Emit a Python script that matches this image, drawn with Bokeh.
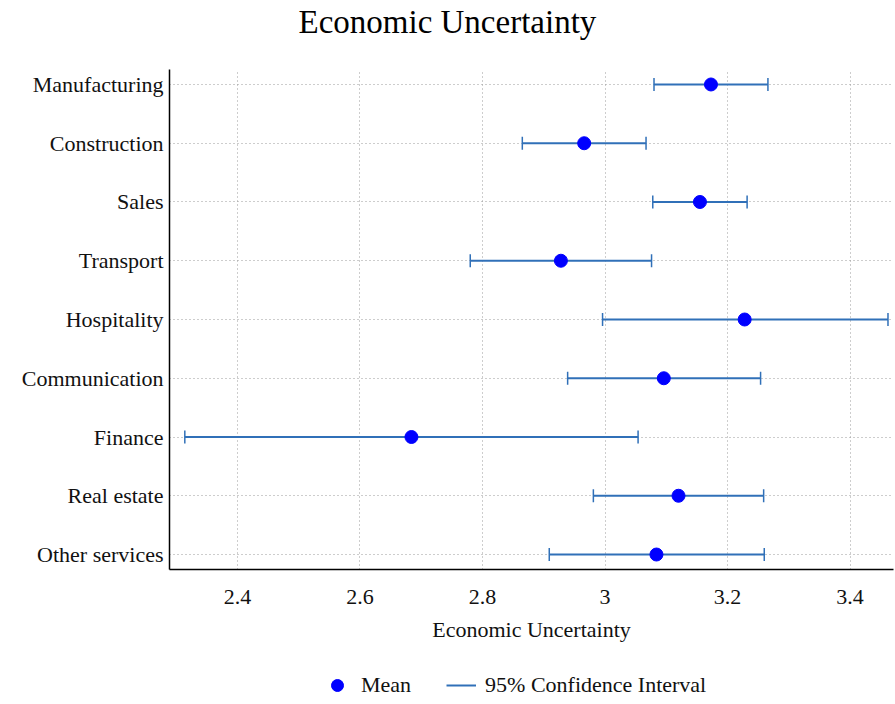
import math
from bokeh.plotting import figure
from bokeh.layouts import column
from bokeh.models import (ColumnDataSource, Range1d, FixedTicker, Legend, LegendItem,
                          CustomJSTickFormatter, Title)
from bokeh.embed import file_html
from bokeh.resources import INLINE

categories = ["Manufacturing", "Construction", "Sales", "Transport", "Hospitality",
              "Communication", "Finance", "Real estate", "Other services"]
means = [3.173, 2.966, 3.155, 2.928, 3.228, 3.096, 2.684, 3.120, 3.084]
ci_low = [3.080, 2.865, 3.078, 2.780, 2.996, 2.939, 2.314, 2.981, 2.909]
ci_high = [3.266, 3.067, 3.232, 3.076, 3.462, 3.254, 3.054, 3.259, 3.260]
x_ticks = [2.4, 2.6, 2.8, 3.0, 3.2, 3.4]
title_text = "Economic Uncertainty"
legend_labels = ["Mean", "95% Confidence Interval"]

n = len(categories)
ypos = [n - i for i in range(n)]
src = ColumnDataSource(dict(cat=categories, y=ypos, m=means, lo=ci_low, hi=ci_high))

FONT = "Liberation Serif"
CI_COLOR = "#3070b8"
DOT_COLOR = "#0000ff"

p = figure(frame_width=724, frame_height=500, output_backend="svg", toolbar_location=None,
           x_range=Range1d(2.289, 3.471), y_range=Range1d(0.745, n + 0.255),
           min_border_left=169, min_border_right=2, min_border_top=69, min_border_bottom=85)
p.outline_line_color = None
p.background_fill_color = "white"
p.border_fill_color = "white"

p.segment(x0="lo", x1="hi", y0="y", y1="y", source=src, line_color=CI_COLOR, line_width=2)
p.scatter(x="lo", y="y", source=src, marker="dash", angle=math.pi / 2, size=13,
          line_color=CI_COLOR, line_width=1.5)
p.scatter(x="hi", y="y", source=src, marker="dash", angle=math.pi / 2, size=13,
          line_color=CI_COLOR, line_width=1.5)
p.scatter(x="m", y="y", source=src, size=13, fill_color=DOT_COLOR, line_color=DOT_COLOR)

# spacer (closest to the frame), then the title, centred on the whole image
p.add_layout(Title(text=" ", text_font_size="10px", standoff=17), "above")
p.add_layout(Title(text=title_text, align="left", offset=129, standoff=0,
                   text_font=FONT, text_font_size="33px", text_font_style="normal",
                   text_color="black"), "above")

# axes
p.xaxis.ticker = FixedTicker(ticks=x_ticks)
p.xaxis.formatter = CustomJSTickFormatter(code="return (Math.round(tick*10)/10).toString();")
p.xaxis.axis_label = "Economic Uncertainty"
p.yaxis.ticker = FixedTicker(ticks=ypos)
p.yaxis.major_label_overrides = {y: c for y, c in zip(ypos, categories)}
for ax in (p.xaxis, p.yaxis):
    ax.major_tick_line_color = None
    ax.minor_tick_line_color = None
    ax.major_tick_out = 0
    ax.major_tick_in = 0
    ax.axis_line_color = "black"
    ax.axis_line_width = 1.5
    ax.major_label_text_font = FONT
    ax.major_label_text_font_size = "22px"
    ax.major_label_text_color = "#111111"
    ax.axis_label_text_font = FONT
    ax.axis_label_text_font_size = "22px"
    ax.axis_label_text_font_style = "normal"
    ax.axis_label_text_color = "#111111"
p.xaxis.major_label_standoff = 20
p.xaxis.axis_label_standoff = 10
p.yaxis.major_label_standoff = 6

p.xgrid.ticker = FixedTicker(ticks=x_ticks)
p.ygrid.ticker = FixedTicker(ticks=ypos)
for g in (p.xgrid, p.ygrid):
    g.grid_line_color = "#9a9a9a"
    g.grid_line_dash = "1 3"
    g.grid_line_width = 1

# legend strip below the chart (its frame is aligned with the chart frame)
lf = figure(width=895, height=46, output_backend="svg", toolbar_location=None,
            x_axis_type=None, y_axis_type=None, min_border=0,
            x_range=Range1d(0, 1), y_range=Range1d(0, 1))
lf.outline_line_color = None
lf.grid.visible = False
nan = float("nan")
dummy = ColumnDataSource(dict(x=[nan], y=[nan]))
ld = lf.scatter(x="x", y="y", source=dummy, size=13, fill_color=DOT_COLOR, line_color=DOT_COLOR)
ls = lf.segment(x0="x", x1="x", y0="y", y1="y", source=dummy, line_color=CI_COLOR, line_width=2)
legend = Legend(items=[LegendItem(label=legend_labels[0], renderers=[ld]),
                       LegendItem(label=legend_labels[1], renderers=[ls])],
                orientation="horizontal", location=(153, 0),
                border_line_color=None, background_fill_alpha=0,
                label_text_font=FONT, label_text_font_size="22px",
                label_text_color="#111111",
                glyph_width=30, glyph_height=30, label_standoff=9, spacing=35,
                margin=0, padding=3)
lf.add_layout(legend, "center")

open("out.html", "w").write(file_html(column(p, lf), INLINE))
